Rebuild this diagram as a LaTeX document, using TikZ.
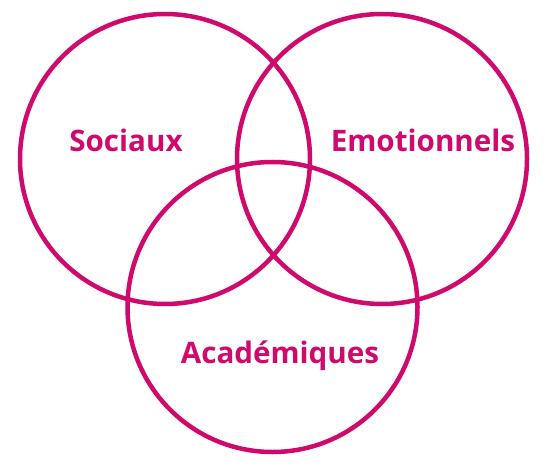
\documentclass[tikz,border=0pt]{standalone}
\usepackage{fontspec}
\setmainfont{Open Sans}
\usepackage{xcolor}
\definecolor{custom_pink}{HTML}{D00A6C}

\begin{document}
\begin{tikzpicture}[x=1pt, y=-1pt, every node/.style={font=\bfseries\fontsize{29.6}{34}\selectfont, text=custom_pink, anchor=base}]

  \useasboundingbox (0,0) rectangle (551,473);

  \draw[custom_pink, line width=4.5pt] (165,159) circle[radius=145pt];
  \draw[custom_pink, line width=4.5pt] (382,159) circle[radius=145pt];
  \draw[custom_pink, line width=4.5pt] (272.5,307) circle[radius=145pt];

  \node (sociaux) at (126,152) {Sociaux};
  \node (emotion) at (423,152) {Emotionnels};
  \node (acad) at (280,363) {Académiques};

\end{tikzpicture}
\end{document}
